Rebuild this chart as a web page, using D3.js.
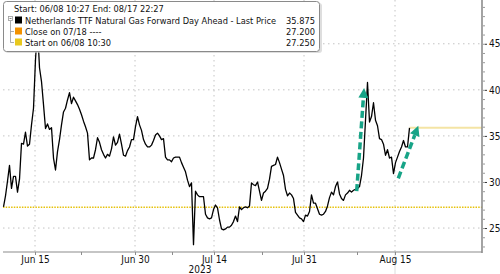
<!DOCTYPE html>
<html>
<head>
<style>
body {margin: 0; background: #fff;}
text {font-family: "DejaVu Sans Condensed", "DejaVu Sans", sans-serif; font-stretch: condensed;}
</style>
<script src="https://cdnjs.cloudflare.com/ajax/libs/d3/7.8.5/d3.min.js"></script>
</head>
<body>
<div id="chart"></div>
<script>
    // price per bar (compressed intraday axis, equal bar spacing)
    const prices = [
        27.3, 28.5, 30.1, 31.8, 29.3, 30.6, 30.6, 28.9, 30.3, 34.2,
        34.1, 35.4, 33.9, 34.1, 36.2, 38.0, 43.3, 46.7, 42.4, 40.9,
        38.4, 35.8, 36.3, 35.7, 35.9, 32.6, 31.3, 33.3, 34.6, 36.2,
        37.6, 38.0, 38.9, 39.7, 38.5, 39.2, 38.8, 38.4, 37.9, 37.3,
        36.6, 36.0, 35.3, 32.4, 32.6, 32.6, 33.5, 34.8, 34.3, 33.5,
        33.0, 32.6, 33.0, 32.8, 33.6, 34.9, 34.0, 34.3, 35.2, 34.1,
        32.9, 32.8, 33.4, 33.8, 34.6, 34.6, 36.0, 37.1, 36.2, 35.6,
        34.6, 34.1, 33.8, 33.8, 34.0, 34.5, 35.1, 35.3, 35.0, 34.6,
        34.7, 32.7, 32.4, 32.4, 32.2, 32.6, 32.7, 32.7, 32.7, 32.1,
        31.6, 31.1, 30.2, 29.5, 29.9, 23.2, 29.0, 28.6, 28.4, 28.4,
        28.4, 26.5, 26.1, 26.0, 26.1, 27.0, 27.5, 27.2, 25.9, 24.9,
        24.8, 24.9, 25.1, 25.1, 25.3, 25.7, 26.3, 25.7, 27.3, 27.0,
        27.2, 27.3, 27.2, 27.4, 29.9, 29.7, 29.6, 30.0, 29.0, 28.0,
        28.8, 29.0, 29.3, 30.3, 31.7, 31.8, 31.9, 32.7, 32.1, 31.4,
        30.7, 29.2, 28.5, 28.8, 28.6, 28.2, 26.7, 26.4, 26.1, 26.0,
        25.7, 26.4, 26.3, 26.8, 28.6, 27.7, 27.7, 27.1, 26.5, 26.4,
        26.5, 26.8, 27.4, 28.3, 28.9, 28.6, 29.5, 30.0, 28.7, 28.2,
        28.0, 28.6, 28.8, 29.1, 28.9, 29.1, 29.2, 29.3, 29.5, 30.7,
        32.6, 36.7, 40.8, 36.5, 37.1, 38.6, 36.7, 36.1, 34.7, 34.6,
        34.1, 32.9, 33.5, 32.6, 32.7, 30.9, 32.1, 32.7, 33.3, 33.8,
        34.5, 33.8, 33.8, 35.875
    ];
    const lastPrice = 35.875;
    const startJun08 = 27.250;

    // date ticks, placed at the bar where that day starts
    const tickLabels = ["Jun 15", "Jun 30", "Jul 14", "Jul 31", "Aug 15"];
    const tickBars = [15.75, 65.75, 105.25, 150.25, 195.75];
    const minorBars = [38.75, 84.25, 129.25, 176.75];
    const yTicks = [25, 30, 35, 40, 45];

    // dashed annotation arrows [bar, price] -> [bar, price]
    const arrows = [
        {from: [176.6, 29.0], to: [180.3, 40.2]},
        {from: [197.4, 30.4], to: [207.4, 36.1]}
    ];

    const legendRows = [
        {label: "Netherlands TTF Natural Gas Forward Day Ahead - Last Price", value: "35.875", color: "#000000"},
        {label: "Close on 07/18 ----", value: "27.200", color: "#f39200"},
        {label: "Start on 06/08 10:30", value: "27.250", color: "#e8c81e"}
    ];

    const W = 500, H = 274;
    const plotLeft = 3, plotRight = 482, plotTop = 0, plotBottom = 252;
    const fs = 9.2;

    const svg = d3.select("#chart").append("svg")
        .attr("width", W).attr("height", H);

    const x = d3.scaleLinear().domain([-0.25, 239.25]).range([plotLeft, plotRight]);
    const y = d3.scaleLinear().domain([22.4, 49.75]).range([plotBottom, plotTop]);

    // grid
    const grid = svg.append("g").attr("stroke", "#c4c4c4").attr("stroke-dasharray", "1.5,3.5");
    grid.selectAll(".hg").data(yTicks).join("line")
        .attr("x1", plotLeft).attr("x2", plotRight)
        .attr("y1", d => y(d)).attr("y2", d => y(d));
    grid.selectAll(".vg").data(tickBars).join("line")
        .attr("x1", d => x(d)).attr("x2", d => x(d))
        .attr("y1", plotTop).attr("y2", plotBottom);

    // crosshair under the last tick
    svg.append("line")
        .attr("x1", x(tickBars[4])).attr("x2", x(tickBars[4]))
        .attr("y1", plotBottom).attr("y2", H)
        .attr("stroke", "#dcdcdc");

    // reference lines
    svg.append("line")
        .attr("x1", plotLeft).attr("x2", plotRight)
        .attr("y1", y(startJun08)).attr("y2", y(startJun08))
        .attr("stroke", "#e6c20c").attr("stroke-width", 1.5).attr("stroke-dasharray", "1.5,1.2");
    svg.append("line")
        .attr("x1", x(prices.length - 1)).attr("x2", plotRight)
        .attr("y1", y(lastPrice)).attr("y2", y(lastPrice))
        .attr("stroke", "#f4e4a4").attr("stroke-width", 2);

    // price line
    const line = d3.line().x((d, i) => x(i)).y(d => y(d));
    svg.append("path")
        .datum(prices)
        .attr("fill", "none")
        .attr("stroke", "#000")
        .attr("stroke-width", 1.3)
        .attr("stroke-linejoin", "round")
        .attr("d", line);

    // arrows
    const teal = "#17a487";
    arrows.forEach(a => {
        const x0 = x(a.from[0]), y0 = y(a.from[1]);
        const x1 = x(a.to[0]), y1 = y(a.to[1]);
        const ang = Math.atan2(y1 - y0, x1 - x0);
        const headLen = 10, headW = 5;
        const bx = x1 - headLen * Math.cos(ang), by = y1 - headLen * Math.sin(ang);
        svg.append("line")
            .attr("x1", x0).attr("y1", y0).attr("x2", bx).attr("y2", by)
            .attr("stroke", teal).attr("stroke-width", 3.5)
            .attr("stroke-dasharray", "7,3.5");
        const px = -Math.sin(ang), py = Math.cos(ang);
        svg.append("path")
            .attr("d", `M${x1},${y1}L${bx + px * headW},${by + py * headW}L${bx - px * headW},${by - py * headW}Z`)
            .attr("fill", teal);
    });

    // right axis
    const yAxis = d3.axisRight(y).tickValues(yTicks).tickSize(4).tickPadding(2);
    svg.append("g")
        .attr("transform", `translate(${plotRight + 1},0)`)
        .call(yAxis)
        .call(g => g.select(".domain").remove())
        .call(g => g.selectAll("line").attr("stroke", "#333").attr("x1", 2))
        .call(g => g.selectAll("text").attr("font-size", 10).attr("fill", "#111"));
    svg.append("g")
        .attr("transform", `translate(${plotRight + 1},0)`)
        .call(d3.axisRight(y).tickValues(d3.range(23, 50)).tickSize(2).tickFormat(""))
        .call(g => g.select(".domain").remove())
        .call(g => g.selectAll("line").attr("stroke", "#999"));
    svg.append("line")
        .attr("x1", plotRight).attr("x2", plotRight)
        .attr("y1", plotTop).attr("y2", plotBottom + 1)
        .attr("stroke", "#8c8c8c").attr("stroke-width", 1.6);

    // bottom axis
    svg.append("line")
        .attr("x1", plotLeft).attr("x2", plotRight)
        .attr("y1", plotBottom).attr("y2", plotBottom)
        .attr("stroke", "#8c8c8c").attr("stroke-width", 1.2);
    const xAxis = d3.axisBottom(x).tickValues(tickBars)
        .tickFormat((d, i) => tickLabels[i]).tickSize(3).tickPadding(1);
    svg.append("g")
        .attr("transform", `translate(0,${plotBottom})`)
        .call(xAxis)
        .call(g => g.select(".domain").remove())
        .call(g => g.selectAll("line").attr("stroke", "#8c8c8c"))
        .call(g => g.selectAll("text").attr("font-size", 10).attr("fill", "#111"));
    svg.append("g")
        .attr("transform", `translate(0,${plotBottom})`)
        .call(d3.axisBottom(x).tickValues(minorBars).tickSize(3).tickFormat(""))
        .call(g => g.select(".domain").remove())
        .call(g => g.selectAll("line").attr("stroke", "#8c8c8c"));
    svg.append("text")
        .attr("x", x(tickBars[2]) - 14).attr("y", 273)
        .attr("text-anchor", "middle")
        .attr("font-size", 10).attr("fill", "#111")
        .text("2023");

    // legend box
    const lg = svg.append("g");
    lg.append("rect")
        .attr("x", 5).attr("y", 3).attr("width", 317).attr("height", 50)
        .attr("rx", 3).attr("fill", "#c8c8c8").attr("opacity", 0.6);
    lg.append("rect")
        .attr("x", 3.5).attr("y", 1.5).attr("width", 316).attr("height", 50)
        .attr("rx", 3).attr("fill", "#fff").attr("stroke", "#8a8a8a");
    lg.append("text")
        .attr("x", 14).attr("y", 12)
        .attr("font-size", fs).attr("fill", "#111")
        .text("Start: 06/08 10:27 End: 08/17 22:27");
    // tree connector
    lg.append("rect").attr("x", 8.5).attr("y", 16.5).attr("width", 4).attr("height", 4)
        .attr("fill", "#fff").attr("stroke", "#999").attr("stroke-width", 0.8);
    lg.append("line").attr("x1", 9.5).attr("x2", 11.5).attr("y1", 18.5).attr("y2", 18.5)
        .attr("stroke", "#666").attr("stroke-width", 0.8);
    lg.append("path").attr("d", "M10.5,21V42.5H14M10.5,31.5H14")
        .attr("fill", "none").attr("stroke", "#999").attr("stroke-width", 0.8);
    legendRows.forEach((r, i) => {
        const ty = 23.5 + i * 11;
        lg.append("rect")
            .attr("x", 15).attr("y", ty - 7).attr("width", 7).attr("height", 7)
            .attr("fill", r.color);
        lg.append("text")
            .attr("x", 25).attr("y", ty)
            .attr("font-size", fs).attr("fill", "#111")
            .text(r.label);
        lg.append("text")
            .attr("x", 315).attr("y", ty)
            .attr("text-anchor", "end")
            .attr("font-size", fs).attr("fill", "#111")
            .text(r.value);
    });
</script>
</body>
</html>
